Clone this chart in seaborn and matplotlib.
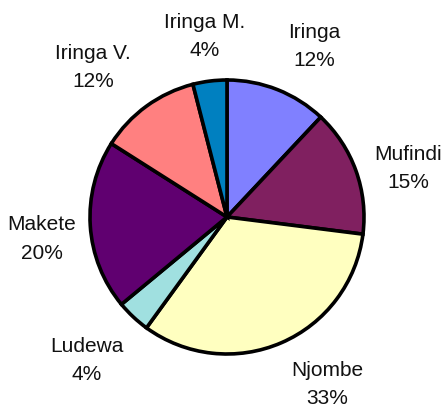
import matplotlib
matplotlib.use("Agg")
import matplotlib.pyplot as plt
import seaborn as sns

sns.set_theme(style="white")
plt.rcParams["font.family"] = ["Liberation Sans", "DejaVu Sans"]

districts = ["Iringa", "Mufindi", "Njombe", "Ludewa", "Makete", "Iringa V.", "Iringa M."]
shares = [12, 15, 33, 4, 20, 12, 4]
colors = ["#8080FF", "#802060", "#FFFFC0", "#A0E0E0", "#600070", "#FF8080", "#0080C0"]

# label placement (in pie radius units), tuned to the reference
label_pos = [(0.635, 1.245), (1.32, 0.354), (0.734, -1.223), (-1.022, -1.047),
             (-1.35, -0.16), (-0.978, 1.091), (-0.16, 1.317)]

fig = plt.figure(figsize=(4.45, 4.08), dpi=100)
ax = fig.add_axes([90 / 445, 54 / 408, 274 / 445, 274 / 408])

wedges, texts = ax.pie(
    shares,
    colors=colors,
    labels=[f"{d}\n{s}%" for d, s in zip(districts, shares)],
    startangle=90,
    counterclock=False,
    radius=1.0,
    wedgeprops={"edgecolor": "black", "linewidth": 2.6},
    textprops={"fontsize": 15, "color": "#111111", "linespacing": 1.65},
)
for t, (x, y) in zip(texts, label_pos):
    t.set_position((x, y))
    t.set_ha("center")
    t.set_va("center")
    t.set_clip_on(False)

ax.set_xlim(-1, 1)
ax.set_ylim(-1, 1)
ax.set_aspect("equal")
ax.axis("off")

fig.savefig("out.png", dpi=100)
